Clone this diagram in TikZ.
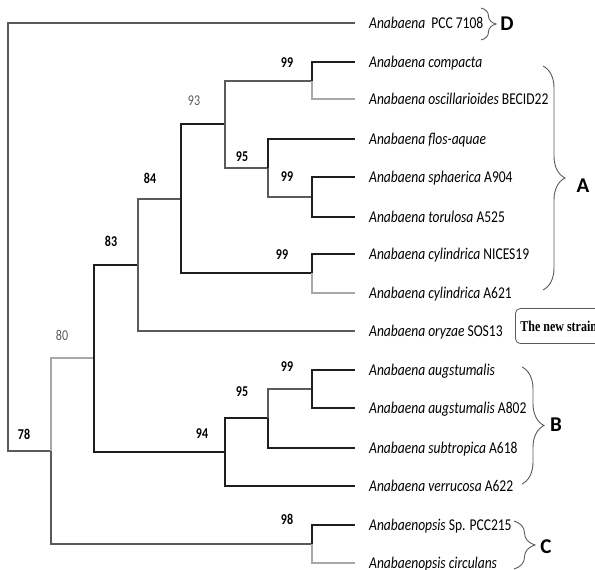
\documentclass[tikz,border=0pt]{standalone}
\usepackage{fontspec}
\setmainfont{Carlito}
\newfontfamily\leaffont[FakeStretch=0.82]{Carlito}
\newfontfamily\bootfont[FakeStretch=0.8]{Carlito}
\newfontfamily\strainfont[FakeStretch=0.8]{Liberation Serif}
\usepackage{xcolor}
\usepackage{tikz}
\usetikzlibrary{positioning, decorations.pathreplacing}

\definecolor{ramoescuro}{HTML}{1E1E1E}
\definecolor{ramomedio}{HTML}{5A5A5A}
\definecolor{ramoclaro}{HTML}{A8A8A8}

\tikzset{
  esc/.style={draw=ramoescuro, line width=1.1pt},
  med/.style={draw=ramomedio, line width=1.1pt},
  cla/.style={draw=ramoclaro, line width=1.1pt},
  leaf/.style={anchor=west, inner xsep=14pt, inner ysep=1pt,
    text height=10.6pt, text depth=0pt, font=\leaffont\fontsize{16.5}{20}\selectfont},
  boot/.style={inner sep=0pt, font=\bootfont\bfseries\fontsize{15}{17}\selectfont},
  bootcinza/.style={inner sep=0pt, text=ramomedio, font=\bootfont\fontsize{15}{17}\selectfont},
  grupo/.style={inner sep=0pt, font=\bfseries\fontsize{21}{24}\selectfont},
  chave/.style={decorate, decoration={brace, amplitude=#1}, draw=ramomedio, line width=0.9pt},
  novacepa/.style={draw=ramomedio, line width=0.8pt, rounded corners=5pt, anchor=west,
    minimum height=35pt, inner xsep=5pt, font=\strainfont\bfseries\fontsize{15}{17}\selectfont}
}

\begin{document}
\begin{tikzpicture}[x=1pt, y=-1pt]

  \useasboundingbox (0,0) rectangle (595,570);

  % Nos internos
  \coordinate (nR) at (8,237);
  \coordinate (n78) at (51,451);
  \coordinate (n80) at (94,358);
  \coordinate (n83) at (138,265);
  \coordinate (n84) at (181,199);
  \coordinate (n93) at (225,124);
  \coordinate (n99a) at (312,81);
  \coordinate (n95a) at (268,168);
  \coordinate (n99b) at (312,197);
  \coordinate (n99c) at (312,273);
  \coordinate (n94) at (225,452);
  \coordinate (n95b) at (268,418);
  \coordinate (n99d) at (312,389);
  \coordinate (n98) at (312,544);

  % Terminais
  \node[leaf] (t1) at (355,23) {\textit{Anabaena}\ \ PCC 7108};
  \node[leaf] (t2) at (355,62) {\textit{Anabaena compacta}};
  \node[leaf] (t3) at (355,99) {\textit{Anabaena oscillarioides} BECID22};
  \node[leaf] (t4) at (355,139) {\textit{Anabaena flos-aquae}};
  \node[leaf] (t5) at (355,177) {\textit{Anabaena sphaerica} A904};
  \node[leaf] (t6) at (355,217) {\textit{Anabaena torulosa} A525};
  \node[leaf] (t7) at (355,254) {\textit{Anabaena cylindrica} NICES19};
  \node[leaf] (t8) at (355,293) {\textit{Anabaena cylindrica} A621};
  \node[leaf] (t9) at (355,331) {\textit{Anabaena oryzae} SOS13};
  \node[leaf] (t10) at (355,370) {\textit{Anabaena augstumalis}};
  \node[leaf] (t11) at (355,408) {\textit{Anabaena augstumalis} A802};
  \node[leaf] (t12) at (355,448) {\textit{Anabaena subtropica} A618};
  \node[leaf] (t13) at (355,486) {\textit{Anabaena verrucosa} A622};
  \node[leaf] (t14) at (355,525) {\textit{Anabaenopsis} Sp. PCC215};
  \node[leaf] (t15) at (355,563) {\textit{Anabaenopsis circulans}};

  % Ramos
  \draw[med] (nR) |- (t1.west);
  \draw[med] (nR) |- (n78);
  \draw[cla] (n78) |- (n80);
  \draw[med] (n78) |- (n98);
  \draw[esc] (n80) |- (n83);
  \draw[esc] (n80) |- (n94);
  \draw[med] (n83) |- (n84);
  \draw[med] (n83) |- (t9.west);
  \draw[esc] (n84) |- (n93);
  \draw[esc] (n84) |- (n99c);
  \draw[med] (n93) |- (n99a);
  \draw[med] (n93) |- (n95a);
  \draw[esc] (n99a) |- (t2.west);
  \draw[cla] (n99a) |- (t3.west);
  \draw[esc] (n95a) |- (t4.west);
  \draw[med] (n95a) |- (n99b);
  \draw[esc] (n99b) |- (t5.west);
  \draw[esc] (n99b) |- (t6.west);
  \draw[esc] (n99c) |- (t7.west);
  \draw[cla] (n99c) |- (t8.west);
  \draw[esc] (n94) |- (n95b);
  \draw[esc] (n94) |- (t13.west);
  \draw[med] (n95b) |- (n99d);
  \draw[esc] (n95b) |- (t12.west);
  \draw[esc] (n99d) |- (t10.west);
  \draw[esc] (n99d) |- (t11.west);
  \draw[esc] (n98) |- (t14.west);
  \draw[cla] (n98) |- (t15.west);

  % Valores de bootstrap
  \node[boot] (b99a) at (287,63) {99};
  \node[bootcinza] (b93) at (194,101) {93};
  \node[boot] (b95a) at (242,157) {95};
  \node[boot] (b99b) at (287,177) {99};
  \node[boot] (b84) at (150,178) {84};
  \node[boot] (b83) at (111,241) {83};
  \node[boot] (b99c) at (282,255) {99};
  \node[bootcinza] (b80) at (62,335) {80};
  \node[boot] (b99d) at (287,367) {99};
  \node[boot] (b95b) at (242,392) {95};
  \node[boot] (b94) at (202,434) {94};
  \node[boot] (b78) at (24,434) {78};
  \node[boot] (b98) at (287,519) {98};

  % Chaves dos grupos
  \coordinate (cD1) at (481,8);
  \coordinate (cD2) at (481,40);
  \coordinate (cA1) at (543,66);
  \coordinate (cA2) at (543,290);
  \coordinate (cB1) at (522,367);
  \coordinate (cB2) at (522,484);
  \coordinate (cC1) at (514,521);
  \coordinate (cC2) at (514,569);
  \draw[chave=15pt] (cD1) -- (cD2);
  \draw[chave=22pt] (cA1) -- (cA2);
  \draw[chave=22pt] (cB1) -- (cB2);
  \draw[chave=21pt] (cC1) -- (cC2);
  \node[grupo] (gD) at (507,24) {D};
  \node[grupo] (gA) at (583,186) {A};
  \node[grupo] (gB) at (556,425) {B};
  \node[grupo] (gC) at (546,547) {C};

  % Nova cepa
  \node[novacepa] (nova) at (515,326) {The new strain};

\end{tikzpicture}
\end{document}
